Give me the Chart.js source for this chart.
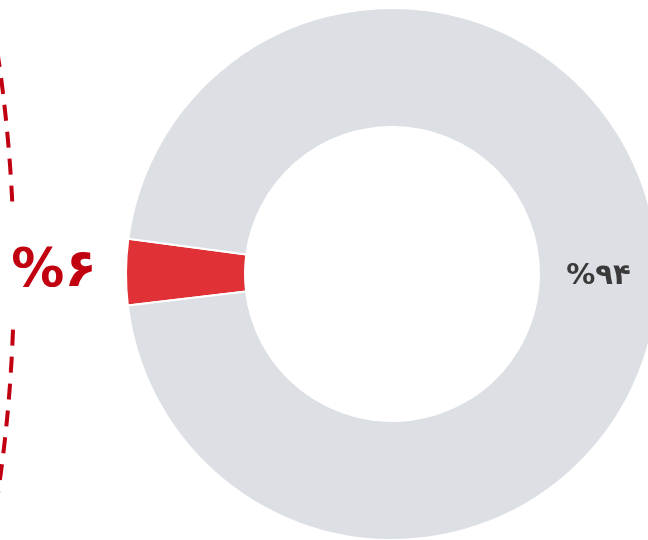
<!DOCTYPE html>
<html>
<head>
<meta charset="utf-8">
<script src="https://cdn.jsdelivr.net/npm/chart.js@4.4.1/dist/chart.umd.min.js"></script>
<style>
    html, body { margin: 0; padding: 0; background: #fff; overflow: hidden; }
    #wrap { width: 700px; height: 560px; position: relative; }
</style>
</head>
<body>
<div id="wrap"><canvas id="donut"></canvas></div>
<script>
const categories = ['highlight', 'rest'];
const sliceValues = [4, 96];
const sliceLabels = ['%۶', '%۹۴'];
const sliceColors = ['#e03236', '#dcdfe4'];

const total = sliceValues.reduce((a, b) => a + b, 0);
// center the red slice on the left side of the ring
const startRotation = 270.4 - (sliceValues[0] / total) * 360 / 2;

// labels + dashed callout arc next to the red slice
const labelPlugin = {
    id: 'sliceLabels',
    afterDatasetsDraw(chart) {
        const ctx = chart.ctx;
        const arcs = chart.getDatasetMeta(0).data;
        arcs.forEach((arc, i) => {
            const p = arc.getProps(['x', 'y', 'startAngle', 'endAngle', 'innerRadius', 'outerRadius'], true);
            const mid = (p.startAngle + p.endAngle) / 2;
            let r, font, color;
            if (i === 0) {
                r = p.outerRadius + 72;
                font = 'bold 53px "DejaVu Sans"';
                color = '#c10010';
            } else {
                r = (p.innerRadius + p.outerRadius) / 2;
                font = 'bold 29px "DejaVu Sans"';
                color = '#3a3a3a';
            }
            const lx = p.x + Math.cos(mid) * r;
            const ly = p.y + Math.sin(mid) * r;
            ctx.save();
            ctx.font = font;
            ctx.fillStyle = color;
            ctx.textAlign = 'center';
            ctx.textBaseline = 'middle';
            ctx.fillText(sliceLabels[i], lx, ly + 1);
            ctx.restore();

            if (i === 0) {
                // big dashed arc, bulging toward the ring, with a gap for the label
                const R = 1500;
                const cx = lx - 40 - R;
                const cy = ly + 3;
                ctx.save();
                ctx.strokeStyle = '#c00010';
                ctx.lineWidth = 4;
                ctx.setLineDash([16, 11]);
                ctx.beginPath();
                ctx.arc(cx, cy, R, Math.asin(-250 / R), Math.asin(-72 / R));
                ctx.stroke();
                ctx.beginPath();
                ctx.arc(cx, cy, R, Math.asin(55 / R), Math.asin(250 / R));
                ctx.stroke();
                ctx.restore();
            }
        });
    }
};

new Chart(document.getElementById('donut'), {
    type: 'doughnut',
    data: {
        labels: categories,
        datasets: [{
            data: sliceValues,
            backgroundColor: sliceColors,
            borderColor: '#ffffff',
            borderWidth: 2,
            hoverOffset: 0
        }]
    },
    options: {
        responsive: true,
        maintainAspectRatio: false,
        animation: false,
        rotation: startRotation,
        cutout: 147,
        layout: { padding: { left: 125, top: 7, right: 41, bottom: 19 } },
        plugins: {
            legend: { display: false },
            tooltip: { enabled: false }
        }
    },
    plugins: [labelPlugin]
});
</script>
</body>
</html>
